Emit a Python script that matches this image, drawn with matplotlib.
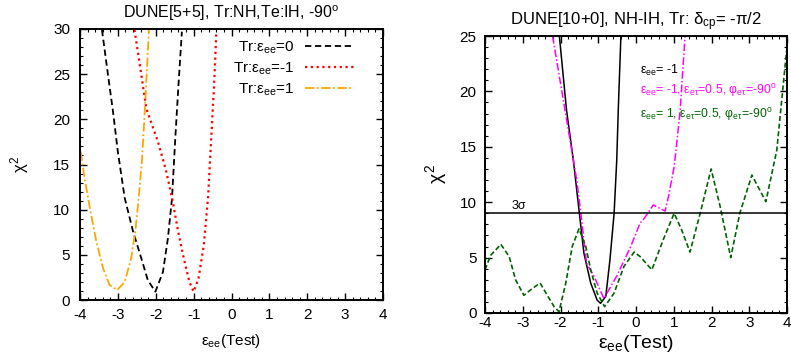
import matplotlib
matplotlib.use('Agg')
import matplotlib.pyplot as plt
from matplotlib.ticker import MultipleLocator

plt.rcParams['font.family'] = ['Liberation Sans', 'DejaVu Sans']
plt.rcParams['mathtext.fontset'] = 'custom'
plt.rcParams['mathtext.rm'] = 'Liberation Sans'
plt.rcParams['mathtext.it'] = 'Liberation Sans'
plt.rcParams['axes.unicode_minus'] = False

# left panel: DUNE[5+5], Tr:NH, Te:IH
x_tr0 = [-3.42, -3.26, -3.13, -3.0, -2.82, -2.6, -2.38, -2.21, -2.01,
         -1.81, -1.68, -1.57, -1.49, -1.40, -1.31]
y_tr0 = [29.9, 24.9, 20.9, 16.4, 11.3, 7.6, 4.6, 2.2, 0.92,
         3.1, 6.8, 11.3, 17.5, 23.8, 29.7]
x_trm1 = [-2.56, -2.38, -2.25, -1.94, -1.72, -1.55, -1.41, -1.26, -1.11, -1.0,
          -0.87, -0.73, -0.62, -0.54, -0.46, -0.40]
y_trm1 = [29.9, 24.9, 21.2, 17.5, 14.2, 10.9, 7.6, 4.6, 2.0, 0.92,
          2.4, 6.1, 11.3, 17.5, 23.8, 29.7]
x_trp1 = [-3.98, -3.88, -3.74, -3.57, -3.39, -3.22, -3.02, -2.82, -2.65, -2.54,
          -2.45, -2.36, -2.29, -2.23, -2.18]
y_trp1 = [16.4, 13.5, 10.2, 6.5, 3.5, 1.66, 1.1, 2.0, 4.6, 7.6,
          11.3, 15.7, 20.9, 25.7, 29.9]

# right panel: DUNE[10+0], NH-IH
x_std = [-2.03, -1.84, -1.66, -1.51, -1.38, -1.2, -1.03, -0.94, -0.80, -0.69,
         -0.58, -0.51, -0.47, -0.40]
y_std = [25, 18.3, 13.8, 9.3, 5.4, 2.7, 1.17, 0.87, 1.5, 4.8,
         9.0, 13.8, 18.3, 25]
x_mag = [-2.21, -1.88, -1.57, -1.46, -1.31, -1.11, -0.85, -0.50, -0.14, 0.106,
         0.21, 0.46, 0.77, 0.86, 1.01, 1.06, 1.17, 1.30]
y_mag = [25, 18.3, 12, 9.0, 4.5, 3.3, 1.3, 3.4, 6.0, 8.1,
         8.5, 9.75, 9.2, 10.5, 13.2, 14.7, 18.3, 25]
x_grn = [-4.0, -3.85, -3.58, -3.36, -3.19, -2.97, -2.75, -2.54, -2.35, -2.17,
         -2.04, -1.86, -1.69, -1.51, -1.33, -1.20, -1.03, -0.83, -0.58, -0.32,
         -0.05, 0.106, 0.42, 0.72, 1.01, 1.21, 1.43, 1.70, 1.99, 2.23,
         2.51, 2.75, 3.07, 3.44, 3.73, 3.99]
y_grn = [3.9, 5.2, 6.2, 5.1, 3.0, 1.6, 2.2, 2.7, 1.6, 0.57,
         0.12, 2.7, 6.0, 7.6, 6.0, 3.9, 1.8, 0.57, 1.8, 4.2,
         5.5, 5.1, 3.9, 6.6, 9.0, 7.5, 5.5, 9.0, 13.0, 9.6,
         5.0, 9.0, 12.45, 10.05, 14.7, 23.7]
sigma3 = 9

fig = plt.figure(figsize=(7.91, 3.6), dpi=100)
ax1 = fig.add_axes([80/791, 1-300/360, 303/791, 271/360])
ax2 = fig.add_axes([485/791, 1-313/360, 302/791, 277/360])

ee = r'$_{\mathregular{ee}}$'
et = r'$_{\mathregular{eτ}}$'
deg = r'$^{\mathregular{o}}$'

ax1.plot(x_tr0, y_tr0, color='black', ls=(0, (3.5, 2)), lw=1.3, label='Tr:ε' + ee + '=0')
ax1.plot(x_trm1, y_trm1, color='red', ls=(0, (1, 1.6)), lw=1.6, label='Tr:ε' + ee + '=-1')
ax1.plot(x_trp1, y_trp1, color='orange', ls=(0, (5, 1.5, 1, 1.5)), lw=1.3, label='Tr:ε' + ee + '=1')
ax1.set_xlim(-4, 4)
ax1.set_ylim(0, 30)
ax1.xaxis.set_major_locator(MultipleLocator(1))
ax1.yaxis.set_major_locator(MultipleLocator(5))
ax1.xaxis.set_minor_locator(MultipleLocator(0.2))
ax1.yaxis.set_minor_locator(MultipleLocator(1))
ax1.set_xlabel('ε' + ee + '(Test)', fontsize=11, labelpad=7)
ax1.set_ylabel(r'$\chi^2$', fontsize=12, labelpad=16)
ax1.set_title('DUNE[5+5], Tr:NH,Te:IH, -90' + deg, fontsize=11.5, pad=8)
ax1.legend(loc='upper right', bbox_to_anchor=(0.94, 1.0), frameon=False, fontsize=11,
           handlelength=3.2, markerfirst=False, borderaxespad=0.3, labelspacing=0.3,
           handletextpad=0.7)
ax1.tick_params(axis='x', pad=6)
ax1.tick_params(axis='y', pad=7)

ax2.plot(x_std, y_std, color='black', lw=1.1)
ax2.plot(x_mag, y_mag, color='magenta', ls=(0, (5, 1.5, 1, 1.5)), lw=1.1)
ax2.plot(x_grn, y_grn, color='darkgreen', ls=(0, (3, 1.6)), lw=1.2)
ax2.axhline(sigma3, color='black', lw=1.1)
ax2.text(-3.3, 9.4, '3σ', fontsize=9)
ax2.text(0.1, 21.6, 'ε' + ee + '= -1', fontsize=9, color='black')
ax2.text(0.1, 19.8, 'ε' + ee + '= -1, ε' + et + '=0.5, φ' + et + '=-90' + deg,
         fontsize=8.8, color='magenta')
ax2.text(0.1, 17.6, 'ε' + ee + '= 1, ε' + et + '=0.5, φ' + et + '=-90' + deg,
         fontsize=8.8, color='darkgreen')
ax2.set_xlim(-4, 4)
ax2.set_ylim(0, 25)
ax2.xaxis.set_major_locator(MultipleLocator(1))
ax2.yaxis.set_major_locator(MultipleLocator(5))
ax2.xaxis.set_minor_locator(MultipleLocator(0.2))
ax2.yaxis.set_minor_locator(MultipleLocator(1))
ax2.set_xlabel('ε' + ee + '(Test)', fontsize=14, labelpad=2)
ax2.set_ylabel(r'$\chi^2$', fontsize=14, labelpad=8)
ax2.set_title(r'DUNE[10+0], NH-IH, Tr: δ$_{\mathregular{cp}}$= -π/2', fontsize=12, pad=8)
ax2.tick_params(axis='x', pad=2)
ax2.tick_params(axis='y', pad=6)

for ax in (ax1, ax2):
    ax.tick_params(which='both', direction='in', top=True, right=True, labelsize=11)
    ax.tick_params(which='major', length=5, width=1)
    ax.tick_params(which='minor', length=2.5, width=0.8)
    for s in ax.spines.values():
        s.set_linewidth(1.4)

fig.savefig('out.png', dpi=100)
